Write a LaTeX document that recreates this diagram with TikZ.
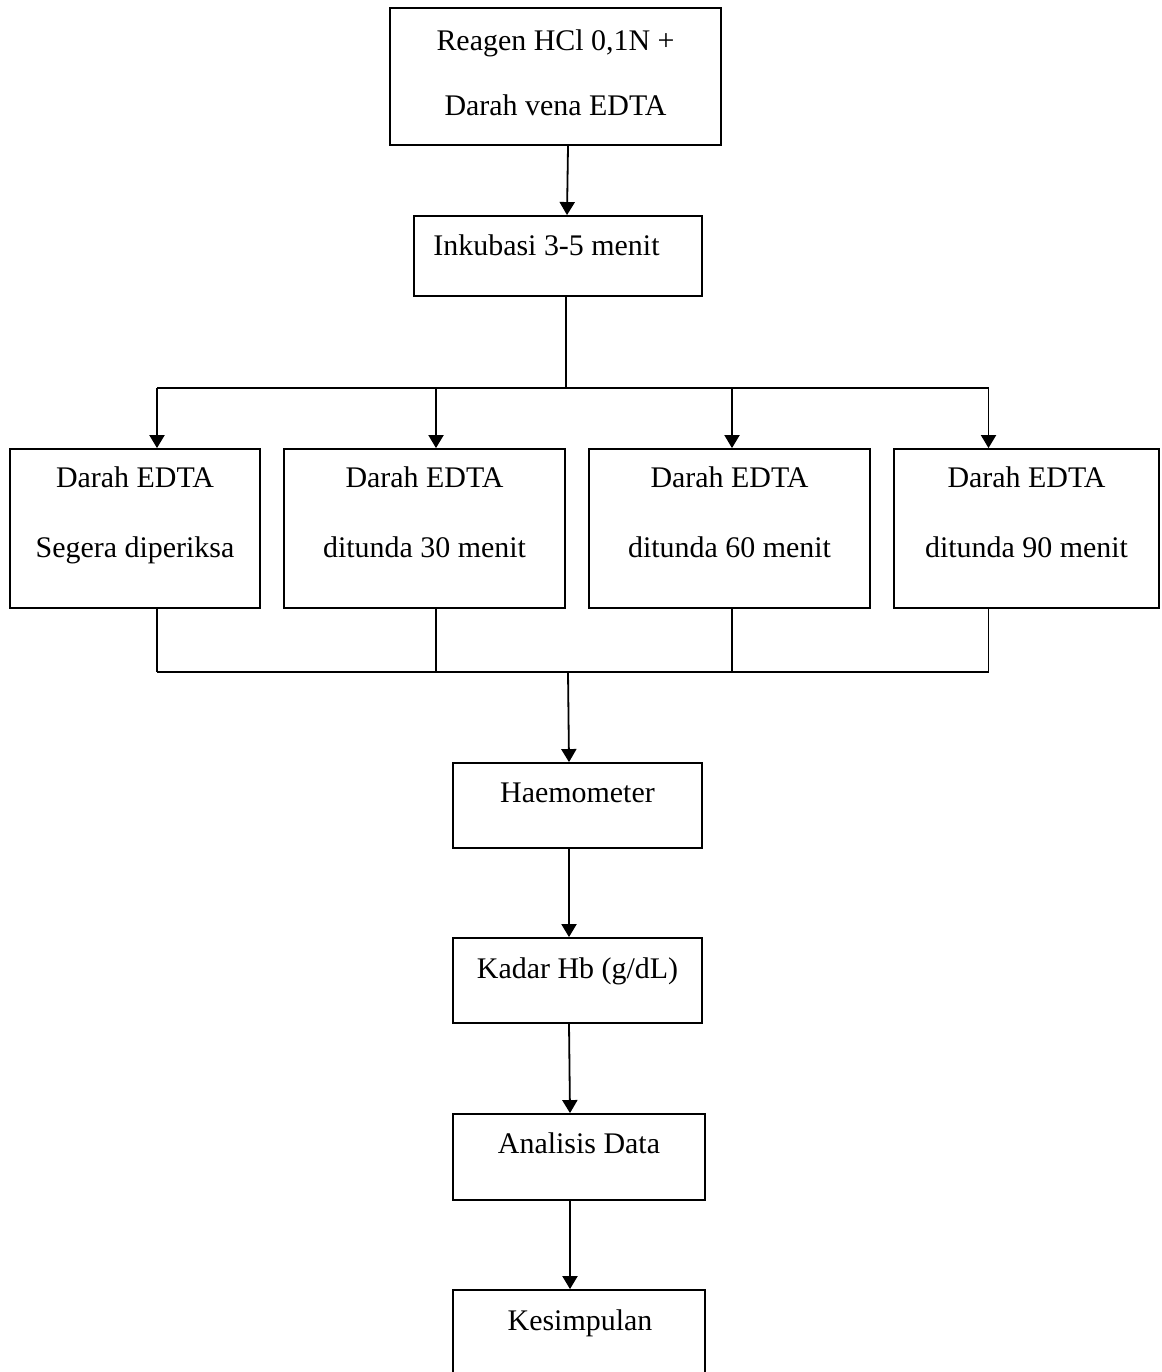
\documentclass[tikz,border=0pt]{standalone}
\usepackage{fontspec}
\setmainfont{Liberation Serif}
\usetikzlibrary{calc,arrows.meta}
\def\pxu{0.4444pt}
\begin{document}
\begin{tikzpicture}[x=0.4444pt,y=-0.4444pt,
  box/.style={draw,line width=0.8pt,inner sep=0pt},
  lbl/.style={font=\fontsize{13.3pt}{16pt}\selectfont,inner sep=0pt,text height=12pt,text depth=3pt},
  conn/.style={line width=0.8pt},
  arr/.style={line width=0.8pt,-{Triangle[width=6.7pt,length=5.8pt]}}]
\useasboundingbox (0,0) rectangle (1161,1372);
\clip (0,0) rectangle (1161,1372);
% boxes
\node[box,minimum width=331*\pxu,minimum height=137*\pxu] (b1) at (555.5,76.5) {};
\node[box,minimum width=288*\pxu,minimum height=80*\pxu] (b2) at (558,256) {};
\node[box,minimum width=250*\pxu,minimum height=159*\pxu] (r1) at (135,528.5) {};
\node[box,minimum width=281*\pxu,minimum height=159*\pxu] (r2) at (424.5,528.5) {};
\node[box,minimum width=281*\pxu,minimum height=159*\pxu] (r3) at (729.5,528.5) {};
\node[box,minimum width=265*\pxu,minimum height=159*\pxu] (r4) at (1026.5,528.5) {};
\node[box,minimum width=249*\pxu,minimum height=85*\pxu] (h) at (577.5,805.5) {};
\node[box,minimum width=249*\pxu,minimum height=85*\pxu] (k) at (577.5,980.5) {};
\node[box,minimum width=252*\pxu,minimum height=86*\pxu] (a) at (579,1157) {};
\node[box,minimum width=252*\pxu,minimum height=90*\pxu] (s) at (579,1335) {};
% texts
\node[lbl] (t1a) at (555.5,40) {Reagen HCl 0,1N +};
\node[lbl] (t1b) at (555.5,105) {Darah vena EDTA};
\node[lbl] (t2) at (546.5,245) {Inkubasi 3-5 menit};
\node[lbl] (tr1a) at (135,477) {Darah EDTA};
\node[lbl] (tr1b) at (135,547) {Segera diperiksa};
\node[lbl] (tr2a) at (424.5,477) {Darah EDTA};
\node[lbl] (tr2b) at (424.5,547) {ditunda 30 menit};
\node[lbl] (tr3a) at (729.5,477) {Darah EDTA};
\node[lbl] (tr3b) at (729.5,547) {ditunda 60 menit};
\node[lbl] (tr4a) at (1026.5,477) {Darah EDTA};
\node[lbl] (tr4b) at (1026.5,547) {ditunda 90 menit};
\node[lbl] (th) at (577.5,792) {Haemometer};
\node[lbl] (tk) at (577.5,968) {Kadar Hb (g/dL)};
\node[lbl] (ta) at (579,1143) {Analisis Data};
\node[lbl] (ts) at (580,1320) {Kesimpulan};
% junction coordinates
\coordinate (jt) at (566,388);
\coordinate (j1) at (157,388);
\coordinate (j2) at (436,388);
\coordinate (j3) at (732,388);
\coordinate (j4) at (988.5,388);
\coordinate (m1) at (157,672);
\coordinate (m2) at (436,672);
\coordinate (m3) at (732,672);
\coordinate (m4) at (988.5,672);
\coordinate (jb) at (568,672);
% connectors
\draw[arr] ($(b1.south)+(12.5,0)$) -- ($(b2.north)+(9,0)$);
\draw[conn] ($(b2.south)+(8,0)$) -- (jt);
\draw[conn] (j1) -- (j4);
\draw[arr] (j1) -- (j1 |- r1.north);
\draw[arr] (j2) -- (j2 |- r2.north);
\draw[arr] (j3) -- (j3 |- r3.north);
\draw[arr] (j4) -- (j4 |- r4.north);
\draw[conn] (m1 |- r1.south) -- (m1);
\draw[conn] (m2 |- r2.south) -- (m2);
\draw[conn] (m3 |- r3.south) -- (m3);
\draw[conn] (m4 |- r4.south) -- (m4);
\draw[conn] (m1) -- (m4);
\draw[arr] (jb) -- ($(h.north)+(-8.5,0)$);
\draw[arr] ($(h.south)+(-8.5,0)$) -- ($(k.north)+(-8.5,0)$);
\draw[arr] ($(k.south)+(-8.5,0)$) -- ($(a.north)+(-9,0)$);
\draw[arr] ($(a.south)+(-9,0)$) -- ($(s.north)+(-9,0)$);
\end{tikzpicture}
\end{document}
